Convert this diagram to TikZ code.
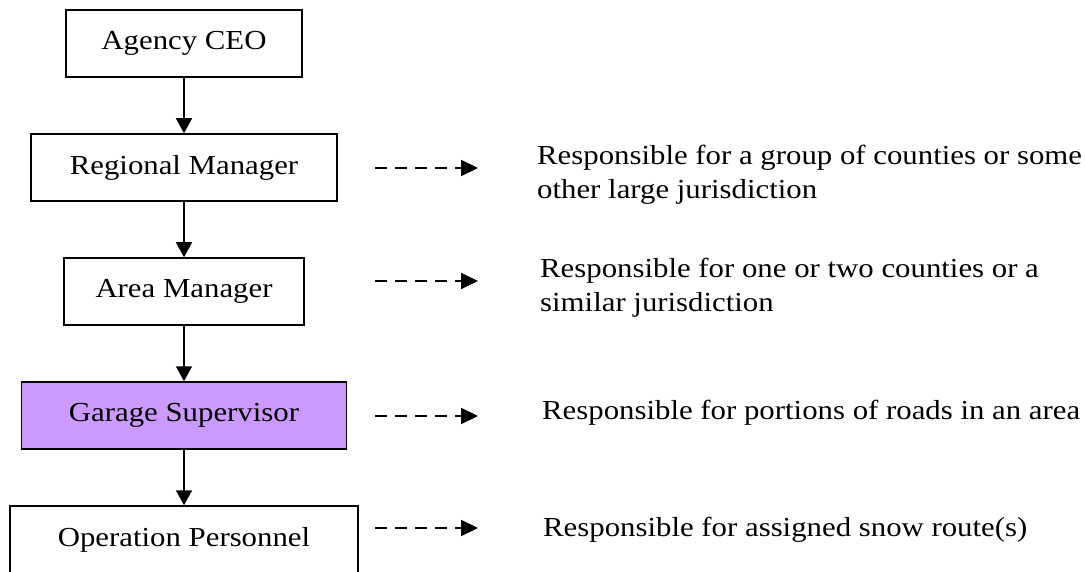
\documentclass[tikz,border=0pt]{standalone}
\usepackage{fontspec}
\setmainfont[FakeStretch=1.12]{Liberation Serif}
\usetikzlibrary{arrows.meta}
\definecolor{lilac}{RGB}{204,153,255}

\begin{document}
\begin{tikzpicture}[
  x=1pt, y=1pt,
  post/.style={rectangle, draw, line width=1.5pt, minimum height=67pt, inner sep=0pt},
  note/.style={anchor=west, align=left, inner sep=0pt},
  link/.style={-{Triangle[width=16pt,length=15pt]}, line width=1.8pt},
  hint/.style={-{Triangle[width=16pt,length=17pt]}, line width=2pt, dash pattern=on 12pt off 8pt},
  node distance=124pt,
  font=\fontsize{27.5}{34}\selectfont
]
\useasboundingbox (0,0) rectangle (1085,-572);

% Chain of command
\node[post, minimum width=236pt] (ceo) at (184,-43.5) {Agency CEO};
\node[post, minimum width=306pt, below of=ceo] (region) {Regional Manager};
\node[post, minimum width=240pt, below of=region] (area) {Area Manager};
\node[post, minimum width=325pt, fill=lilac, below of=area] (garage) {Garage Supervisor};
\node[post, minimum width=348pt, below of=garage] (crew) {Operation Personnel};

\draw[link] (ceo) -- (region);
\draw[link] (region) -- (area);
\draw[link] (area) -- (garage);
\draw[link] (garage) -- (crew);

% Responsibilities
\node[note] (regionnote) at (537,-175) {Responsible for a group of counties or some\\other large jurisdiction};
\node[note] (areanote) at (540,-288) {Responsible for one or two counties or a\\similar jurisdiction};
\node[note] (garagenote) at (542,-413) {Responsible for portions of roads in an area};
\node[note] (crewnote) at (543,-530) {Responsible for assigned snow route(s)};

\coordinate (h1s) at (375,-168);
\coordinate (h1e) at (478,-168);
\coordinate (h2s) at (375,-281);
\coordinate (h2e) at (478,-281);
\coordinate (h3s) at (375,-416);
\coordinate (h3e) at (478,-416);
\coordinate (h4s) at (375,-528);
\coordinate (h4e) at (478,-528);
\draw[hint] (h1s) -- (h1e);
\draw[hint] (h2s) -- (h2e);
\draw[hint] (h3s) -- (h3e);
\draw[hint] (h4s) -- (h4e);
\end{tikzpicture}
\end{document}
